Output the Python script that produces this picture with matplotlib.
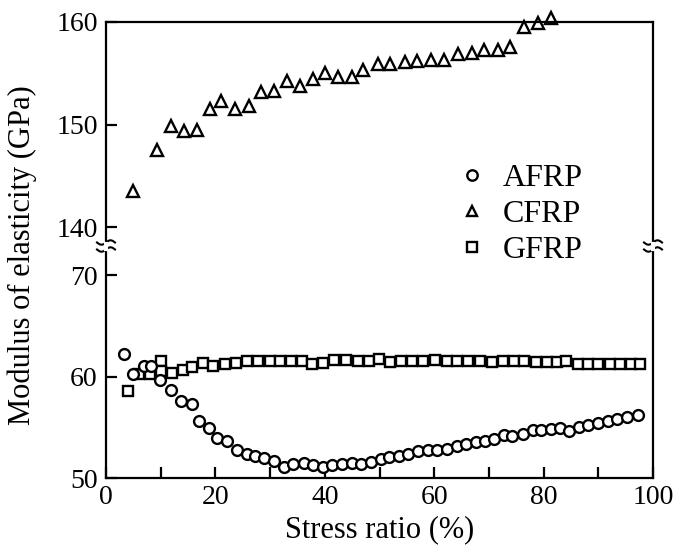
import matplotlib
matplotlib.use("Agg")
import matplotlib.pyplot as plt
from matplotlib.lines import Line2D
import numpy as np

plt.rcParams['font.family'] = ['Liberation Serif', 'DejaVu Serif']

# ---- data ----
afrp_x = [3.3, 5.0, 7.0, 8.3, 9.9, 11.9, 13.7, 15.7, 17.0, 18.8, 20.3, 22.1, 23.9, 25.7,
          27.2, 28.9, 30.7, 32.5, 34.2, 36.2, 37.9, 39.6, 41.4, 43.2, 44.9, 46.6, 48.4,
          50.2, 51.8, 53.5, 55.3, 57.1, 58.8, 60.6, 62.4, 64.1, 65.9, 67.6, 69.3, 71.0,
          72.8, 74.3, 76.2, 78.0, 79.6, 81.4, 83.0, 84.7, 86.5, 88.2, 90.0, 91.7, 93.5,
          95.3, 97.2]
afrp_y = [62.2, 60.2, 61.0, 61.0, 59.7, 58.7, 57.6, 57.3, 55.6, 54.9, 53.9, 53.6, 52.8, 52.4,
          52.2, 52.0, 51.7, 51.1, 51.35, 51.45, 51.3, 51.1, 51.3, 51.4, 51.5, 51.4, 51.6,
          51.9, 52.05, 52.15, 52.4, 52.7, 52.8, 52.8, 52.9, 53.2, 53.35, 53.5, 53.65, 53.85,
          54.2, 54.1, 54.3, 54.7, 54.7, 54.8, 54.9, 54.6, 55.0, 55.2, 55.4, 55.6, 55.8,
          56.0, 56.2]

cfrp_x = [4.9, 9.4, 11.9, 14.2, 16.6, 19.0, 21.0, 23.6, 26.1, 28.3, 30.8, 33.1, 35.5, 37.8,
          40.0, 42.5, 44.9, 47.0, 49.7, 52.0, 54.7, 56.9, 59.5, 61.8, 64.4, 66.9, 69.1,
          71.6, 73.9, 76.4, 78.9, 81.3]
cfrp_y = [143.5, 147.5, 149.9, 149.4, 149.5, 151.5, 152.3, 151.5, 151.8, 153.2, 153.3, 154.2,
          153.8, 154.4, 155.0, 154.6, 154.6, 155.3, 155.9, 155.9, 156.1, 156.2, 156.3, 156.3,
          156.9, 157.0, 157.3, 157.3, 157.6, 159.5, 159.9, 160.4]

gfrp_x = [4.1, 6.1, 8.0, 10.1, 10.1, 12.0, 14.0, 15.8, 17.8, 19.6, 21.8, 23.8, 25.7, 27.8,
          29.9, 31.8, 33.8, 35.8, 37.7, 39.7, 41.6, 43.9, 46.0, 48.0, 49.9, 51.9, 53.9,
          55.9, 58.0, 60.1, 62.3, 64.1, 66.1, 68.4, 70.5, 72.5, 74.5, 76.5, 78.6, 80.6,
          82.4, 84.1, 86.3, 88.2, 90.0, 92.1, 94.0, 95.9, 97.7]
gfrp_y = [58.6, 60.2, 60.2, 61.5, 60.5, 60.3, 60.6, 60.9, 61.3, 61.0, 61.2, 61.3, 61.5, 61.5,
          61.5, 61.5, 61.5, 61.5, 61.25, 61.3, 61.65, 61.6, 61.5, 61.5, 61.75, 61.45, 61.5,
          61.5, 61.5, 61.6, 61.5, 61.5, 61.5, 61.5, 61.45, 61.5, 61.5, 61.5, 61.4, 61.4,
          61.4, 61.5, 61.2, 61.2, 61.2, 61.2, 61.2, 61.2, 61.2]

series_labels = ["AFRP", "CFRP", "GFRP"]
x_ticks_major = [0, 20, 40, 60, 80, 100]
top_yticks = [140, 150, 160]
bot_yticks = [50, 60, 70]

# ---- layout ----
W, H = 676, 558
fig = plt.figure(figsize=(W / 100, H / 100), dpi=100)
left, right = 106 / W, 653 / W
ytop, ymid, ybot = 1 - 22 / H, 1 - 246 / H, 1 - 478 / H
ax_top = fig.add_axes([left, ymid, right - left, ytop - ymid])
ax_bot = fig.add_axes([left, ybot, right - left, ymid - ybot])

lw = 1.6
for ax in (ax_top, ax_bot):
    ax.set_xlim(0, 100)
    for s in ax.spines.values():
        s.set_linewidth(lw)
    ax.tick_params(axis='both', direction='in', length=8, width=lw, labelsize=20,
                   right=False, top=False, pad=6)
ax_top.set_ylim(138.15, 160)
ax_bot.set_ylim(50, 72.86)
ax_top.spines['bottom'].set_visible(False)
ax_bot.spines['top'].set_visible(False)
ax_top.set_xticks([])
ax_top.set_yticks(top_yticks)
ax_bot.set_yticks(bot_yticks)
ax_bot.set_xticks(x_ticks_major)
ax_bot.set_xticks(np.arange(10, 100, 20), minor=True)
ax_bot.tick_params(axis='x', which='minor', direction='in', length=8, width=lw, top=False)
ax_bot.tick_params(axis='x', pad=5)

mk = dict(linestyle='none', mfc='white', mec='black', mew=1.7)
ax_bot.plot(gfrp_x, gfrp_y, marker='s', ms=7.0, **mk)
ax_bot.plot(afrp_x, afrp_y, marker='o', ms=7.8, **mk)
ax_top.plot(cfrp_x, cfrp_y, marker='^', ms=8.8, clip_on=False, **mk)

ax_bot.set_xlabel("Stress ratio (%)", fontsize=22, labelpad=4)
fig.text(22 / W, 1 - 255 / H, "Modulus of elasticity (GPa)", rotation=90,
         fontsize=22, ha='center', va='center')

# ---- axis break marks ----
def break_mark(xpix):
    t = np.linspace(-1, 1, 30)
    xs = (xpix + 9 * t) / W
    for dy in (-3.5, 3.5):
        ys = 1 - (246 + dy - 2.2 * np.sin(np.pi * t)) / H
        fig.add_artist(Line2D(xs, ys, color='black', lw=1.5, transform=fig.transFigure))
    fig.add_artist(Line2D([xpix / W, xpix / W], [1 - 243.5 / H, 1 - 248.5 / H],
                          color='white', lw=3, transform=fig.transFigure))

break_mark(106)
break_mark(653)

# ---- legend ----
handles = [Line2D([], [], marker='o', ms=7.5, **mk),
           Line2D([], [], marker='^', ms=7.5, **mk),
           Line2D([], [], marker='s', ms=7.0, **mk)]
fig.legend(handles, series_labels, loc='upper left',
           bbox_to_anchor=(440 / W, 1 - 148 / H), frameon=False, fontsize=23,
           handlelength=1.0, handletextpad=0.45, labelspacing=0.2, borderpad=0)

fig.savefig("out.png", dpi=100)
